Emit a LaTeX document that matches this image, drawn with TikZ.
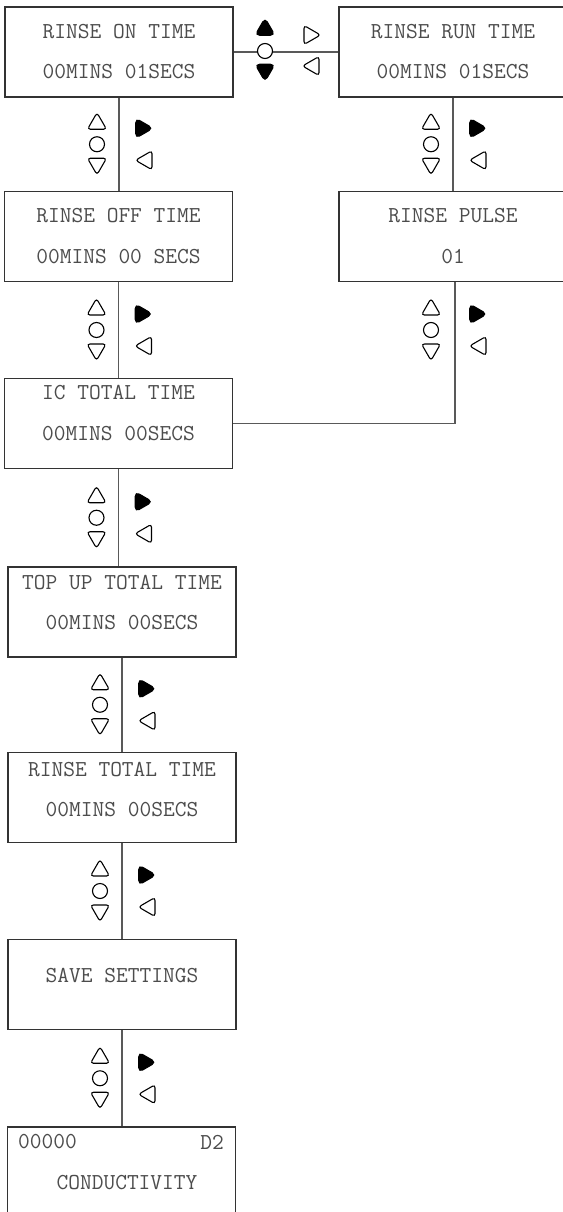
\documentclass[tikz,border=0pt]{standalone}
\usepackage{fontspec}
\usetikzlibrary{shapes.geometric,calc,positioning}

\tikzset{
  lcdbox/.style={draw=black!80, line width=1.2pt, minimum width=228pt, minimum height=90pt, inner sep=0pt},
  lcdtext/.style={font=\ttfamily\fontsize{22.8}{26}\selectfont, text=black!70, inner sep=0pt},
  link/.style={draw=black!65, line width=1.2pt},
  keytri/.style={regular polygon, regular polygon sides=3, minimum size=22pt, inner sep=0pt, rounded corners=3pt, line width=1.1pt, draw=black},
  keyup/.style={keytri},
  keydown/.style={keytri, shape border rotate=180},
  keyleft/.style={keytri, shape border rotate=90},
  keyright/.style={keytri, shape border rotate=-90},
  keysolid/.style={minimum size=23pt, rounded corners=4.5pt, fill=black},
  keyok/.style={circle, draw=black, line width=1.1pt, minimum size=15pt, inner sep=0pt, fill=white}
}

\begin{document}
\begin{tikzpicture}[x=1pt, y=-1pt]
    \useasboundingbox (0,0) rectangle (562,1212);

    % Menu screens
    \node[lcdbox] (rinseon)    at (119,52)      {};
    \node[lcdbox] (rinserun)   at (453,52)      {};
    \node[lcdbox] (rinseoff)   at (118.5,236.5) {};
    \node[lcdbox] (rinsepulse) at (453,236.5)   {};
    \node[lcdbox] (ictotal)    at (118.5,423.5) {};
    \node[lcdbox] (topup)      at (122,612)     {};
    \node[lcdbox] (rinsetot)   at (122,797.5)   {};
    \node[lcdbox] (savesett)   at (122,984.5)   {};
    \node[lcdbox] (conduct)    at (121.5,1172)  {};

    % Links between screens
    \draw[link] (rinseon.east) -- (rinserun.west);
    \draw[link] (rinseon.south) -- (rinseon.south |- rinseoff.north);
    \draw[link] (rinserun.south) -- (rinserun.south |- rinsepulse.north);
    \draw[link] (rinseoff.south) -- (rinseoff.south |- ictotal.north);
    \draw[link] ([xshift=2pt]rinsepulse.south) |- (ictotal.east);
    \draw[link] (ictotal.south) -- (ictotal.south |- topup.north);
    \draw[link] (topup.south) -- (topup.south |- rinsetot.north);
    \draw[link] (rinsetot.south) -- (rinsetot.south |- savesett.north);
    \draw[link] (savesett.south) -- (savesett.south |- conduct.north);

    % Screen texts
    \node[lcdtext] (rinseon-a)    at (119,32)    {RINSE ON TIME};
    \node[lcdtext] (rinseon-b)    at (119,72)    {00MINS 01SECS};
    \node[lcdtext] (rinserun-a)   at (453,32)    {RINSE RUN TIME};
    \node[lcdtext] (rinserun-b)   at (453,72)    {00MINS 01SECS};
    \node[lcdtext] (rinseoff-a)   at (118.5,216) {RINSE OFF TIME};
    \node[lcdtext] (rinseoff-b)   at (118.5,257) {00MINS 00 SECS};
    \node[lcdtext] (rinsepulse-a) at (453,216)   {RINSE PULSE};
    \node[lcdtext] (rinsepulse-b) at (453,257)   {01};
    \node[lcdtext] (ictotal-a)    at (118.5,393) {IC TOTAL TIME};
    \node[lcdtext] (ictotal-b)    at (118.5,434) {00MINS 00SECS};
    \node[lcdtext] (topup-a)      at (122,583)   {TOP UP TOTAL TIME};
    \node[lcdtext] (topup-b)      at (122,623)   {00MINS 00SECS};
    \node[lcdtext] (rinsetot-a)   at (122,770)   {RINSE TOTAL TIME};
    \node[lcdtext] (rinsetot-b)   at (122,810)   {00MINS 00SECS};
    \node[lcdtext] (savesett-a)   at (122,975)   {SAVE SETTINGS};
    \node[lcdtext, anchor=west] (conduct-a) at (18,1142)  {00000};
    \node[lcdtext, anchor=east] (conduct-b) at (224,1142) {D2};
    \node[lcdtext] (conduct-c)    at (127,1183)  {CONDUCTIVITY};

    % Keys on the top link
    \node[keyok] (hk-ok) at (265,51) {};
    \node[keyup, keysolid] (hk-up) at (265,29.5) {};
    \node[keydown, keysolid] (hk-down) at (265,70) {};
    \node[keyright] (hk-right) at (309.5,35) {};
    \node[keyleft] (hk-left) at (313.5,66) {};

    % Keys on the vertical links
    \foreach \nm/\a/\b in {ka/rinseon/rinseoff, kb/rinserun/rinsepulse,
                           kc/rinseoff/ictotal, kd/rinsepulse/ictotal,
                           ke/ictotal/topup, kf/topup/rinsetot,
                           kg/rinsetot/savesett, kh/savesett/conduct} {
        \coordinate (\nm) at ($(\a.south)!0.5!(\a.south |- \b.north)$);
        \node[keyok] (\nm-ok) at ([shift={(-22,0)}]\nm) {};
        \node[keyup] (\nm-up) at ([shift={(-22,-20.5)}]\nm) {};
        \node[keydown] (\nm-down) at ([shift={(-22,19.5)}]\nm) {};
        \node[keyright, keysolid] (\nm-right) at ([shift={(22.5,-16)}]\nm) {};
        \node[keyleft] (\nm-left) at ([shift={(27.5,16)}]\nm) {};
    }
\end{tikzpicture}
\end{document}
